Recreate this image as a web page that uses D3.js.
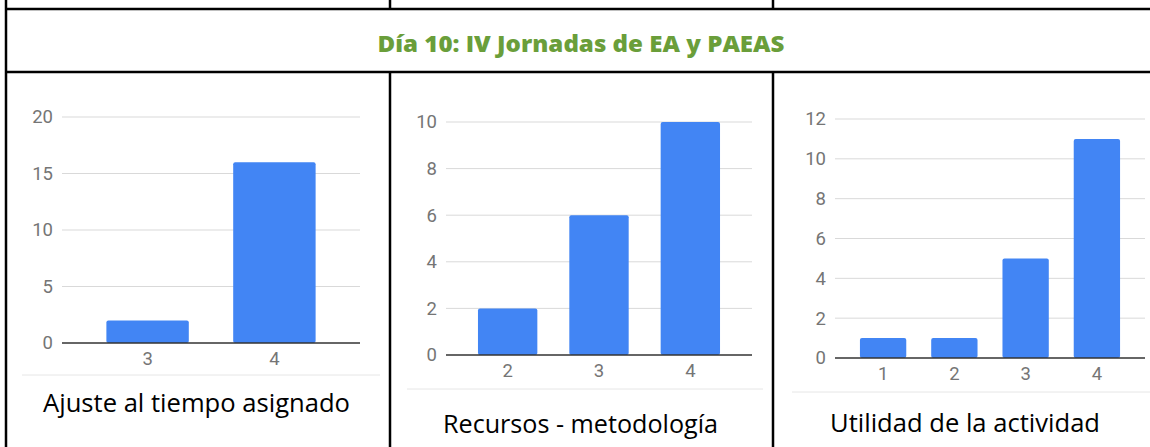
<!DOCTYPE html>
<html>
<head>
<meta charset="utf-8">
<script src="https://cdn.jsdelivr.net/npm/d3@7"></script>
<style>
  body { margin: 0; background: #fff; }
  svg { display: block; }
</style>
</head>
<body>
<svg id="chart" width="1150" height="447"></svg>
<script>
// data
var title = "Día 10: IV Jornadas de EA y PAEAS";

var ajusteCats = ["3", "4"];
var ajusteVals = [2, 16];
var ajusteTicks = [0, 5, 10, 15, 20];
var ajusteCaption = "Ajuste al tiempo asignado";

var recursosCats = ["2", "3", "4"];
var recursosVals = [2, 6, 10];
var recursosTicks = [0, 2, 4, 6, 8, 10];
var recursosCaption = "Recursos - metodología";

var utilidadCats = ["1", "2", "3", "4"];
var utilidadVals = [1, 1, 5, 11];
var utilidadTicks = [0, 2, 4, 6, 8, 10, 12];
var utilidadCaption = "Utilidad de la actividad";

var svg = d3.select("#chart");

// table borders
var black = "#000";
var hl = [9, 72];
hl.forEach(function(y) {
    svg.append("line").attr("x1", 5).attr("x2", 1150).attr("y1", y).attr("y2", y)
        .attr("stroke", black).attr("stroke-width", 2.5);
});
// verticals in top strip
[6, 390, 773].forEach(function(x) {
    svg.append("line").attr("x1", x).attr("x2", x).attr("y1", 0).attr("y2", 9)
        .attr("stroke", black).attr("stroke-width", 2.5);
});
// verticals of the lower row
[6, 390, 773].forEach(function(x) {
    svg.append("line").attr("x1", x).attr("x2", x).attr("y1", 72).attr("y2", 447)
        .attr("stroke", black).attr("stroke-width", 2.5);
});
svg.append("line").attr("x1", 6).attr("x2", 6).attr("y1", 9).attr("y2", 72)
    .attr("stroke", black).attr("stroke-width", 2.5);

svg.append("text")
    .attr("x", 581).attr("y", 52)
    .attr("text-anchor", "middle")
    .attr("font-family", "'Open Sans', sans-serif")
    .attr("font-weight", 800)
    .attr("font-size", 23)
    .attr("fill", "#6a9e3a")
    .attr("textLength", 407)
    .attr("lengthAdjust", "spacingAndGlyphs")
    .text(title);

var panels = [
    { cats: ajusteCats, vals: ajusteVals, ticks: ajusteTicks, caption: ajusteCaption,
      x0: 62, x1: 360, yZero: 343, yTop: 117, sepY: 375, sepX0: 22, sepX1: 380,
      capX: 196.5, capY: 412, capW: 307 },
    { cats: recursosCats, vals: recursosVals, ticks: recursosTicks, caption: recursosCaption,
      x0: 446, x1: 752, yZero: 355, yTop: 122, sepY: 389, sepX0: 407, sepX1: 763,
      capX: 580.5, capY: 433, capW: 275 },
    { cats: utilidadCats, vals: utilidadVals, ticks: utilidadTicks, caption: utilidadCaption,
      x0: 835, x1: 1145, yZero: 358, yTop: 119, sepY: 392, sepX0: 792, sepX1: 1150,
      capX: 965, capY: 432, capW: 270 }
];

panels.forEach(function(p) {
    var g = svg.append("g");
    var yMax = p.ticks[p.ticks.length - 1];

    var x = d3.scaleBand()
        .domain(p.cats)
        .range([p.x0, p.x1])
        .paddingInner(0.35)
        .paddingOuter(0.35);

    var y = d3.scaleLinear()
        .domain([0, yMax])
        .range([p.yZero, p.yTop]);

    // gridlines
    g.selectAll(".grid")
        .data(p.ticks.slice(1))
        .enter().append("line")
        .attr("x1", p.x0).attr("x2", p.x1)
        .attr("y1", function(d) { return y(d); })
        .attr("y2", function(d) { return y(d); })
        .attr("stroke", "#d9d9d9").attr("stroke-width", 1);

    // y axis labels
    var ya = g.append("g")
        .attr("transform", "translate(" + p.x0 + ",0)")
        .call(d3.axisLeft(y).tickValues(p.ticks).tickSize(0).tickPadding(9));
    ya.select(".domain").remove();
    ya.selectAll("text")
        .attr("font-family", "Roboto, sans-serif")
        .attr("font-size", 18.5)
        .attr("fill", "#757575");

    // bars
    g.selectAll(".bar")
        .data(p.vals)
        .enter().append("rect")
        .attr("x", function(d, i) { return x(p.cats[i]); })
        .attr("width", x.bandwidth())
        .attr("y", function(d) { return y(d); })
        .attr("height", function(d) { return y(0) - y(d); })
        .attr("rx", 2)
        .attr("fill", "#4285f4");

    // zero line
    g.append("line")
        .attr("x1", p.x0).attr("x2", p.x1)
        .attr("y1", y(0)).attr("y2", y(0))
        .attr("stroke", "#333").attr("stroke-width", 1.3);

    // x axis labels
    var xa = g.append("g")
        .attr("transform", "translate(0," + y(0) + ")")
        .call(d3.axisBottom(x).tickSize(0).tickPadding(9));
    xa.select(".domain").remove();
    xa.selectAll("text")
        .attr("font-family", "Roboto, sans-serif")
        .attr("font-size", 18.5)
        .attr("fill", "#757575");

    // separator under the chart
    g.append("line")
        .attr("x1", p.sepX0).attr("x2", p.sepX1)
        .attr("y1", p.sepY).attr("y2", p.sepY)
        .attr("stroke", "#e6e6e6").attr("stroke-width", 1);

    // caption
    g.append("text")
        .attr("x", p.capX).attr("y", p.capY)
        .attr("text-anchor", "middle")
        .attr("font-family", "'Open Sans', sans-serif")
        .attr("font-size", 25)
        .attr("fill", "#000")
        .attr("textLength", p.capW)
        .attr("lengthAdjust", "spacingAndGlyphs")
        .text(p.caption);
});
</script>
</body>
</html>
